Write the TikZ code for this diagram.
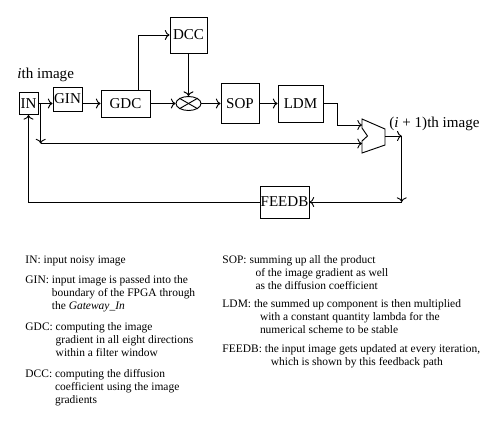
\documentclass[tikz,border=0pt]{standalone}
\usepackage{fontspec}
\setmainfont{Liberation Serif}
\usetikzlibrary{shapes.geometric,arrows.meta}

\begin{document}
\begin{tikzpicture}[x=0.75pt,y=0.75pt,yscale=-1,xscale=1,
  line width=0.7pt, >={To[length=3.5pt,width=7.5pt]},
  block/.style={draw, inner sep=0.5pt, font=\fontsize{11.3}{13}\selectfont},
  lbl/.style={inner sep=0pt, font=\fontsize{11.3}{13}\selectfont},
  legend/.style={anchor=base west, inner sep=0pt, align=left, font=\fontsize{8.6}{10.1}\selectfont}]
\useasboundingbox (0,0) rectangle (500,426);

%Flowchart: Process
\node[block, minimum width=14.25pt, minimum height=16.5pt] (IN) at (28.5,103.5) {IN};
\node[block, minimum width=21.75pt, minimum height=18pt] (GIN) at (67.5,99) {GIN};
\node[block, minimum width=36.75pt, minimum height=20.25pt] (GDC) at (125.5,103.5) {GDC};
\node[block, minimum width=27.75pt, minimum height=27pt] (DCC) at (188.5,35) {DCC};
\node[block, minimum width=28.5pt, minimum height=30pt] (SOP) at (240,103.5) {SOP};
\node[block, minimum width=33.75pt, minimum height=27.75pt] (LDM) at (300.5,103.5) {LDM};
\node[block, minimum width=36.75pt, minimum height=24pt] (FEEDB) at (284.5,202) {FEEDB};

%Flowchart: Multiplier
\node[draw, ellipse, minimum width=18.75pt, minimum height=10.5pt, inner sep=0pt] (mult) at (188.5,103.5) {};
\draw (mult.north west) -- (mult.south east);
\draw (mult.north east) -- (mult.south west);

%Adder
\draw (362,119) -- (385,129) -- (385,145) -- (362,153) -- (362,141) -- (367.5,136) -- (362,128) -- cycle;
\coordinate (addin1) at (362,125);
\coordinate (addin2) at (362,143.5);
\coordinate (addout) at (385,136);

%Corners
\coordinate (split) at (40.7,103.5);
\coordinate (bypass) at (40.7,143.5);
\coordinate (bend) at (337,125);
\coordinate (outc) at (401.7,136);
\coordinate (fbc) at (401.7,202);

%Straight Lines
\draw[->] (IN.east) -- (IN.east -| GIN.west);
\draw[->] (GIN.east |- GDC.west) -- (GDC.west);
\draw[->] ([xshift=9.4pt]GDC.north) |- (DCC.west);
\draw[->] (GDC.east) -- (mult.west);
\draw[->] (DCC.south) -- (mult.north);
\draw[->] (mult.east) -- (SOP.west);
\draw[->] (SOP.east) -- (LDM.west);
\draw[->] (LDM.east) -| (bend) -- (addin1);
\draw[->] (split) -- (bypass);
\draw[->] (bypass) -- (addin2);
\draw[->] (addout) -- (outc);
\draw[->] (outc) -- (fbc);
\draw[->] (fbc) -- (FEEDB.east);
\draw[->] (FEEDB.west) -| (IN.south);

% Text Node
\node[lbl, anchor=base west] (ith) at (17,78) {\textit{i}th image};
\node[lbl, anchor=base west] (inext) at (389,127) {(\textit{i} + 1)th image};

% Legend
\node[legend] (legIN) at (25,263) {IN: input noisy image};
\node[legend] (legGIN) at (25,283) {GIN: \begin{tabular}[t]{@{}l@{}}input image is passed into the\\boundary of the FPGA through\\the \textit{Gateway\_In}\end{tabular}};
\node[legend] (legGDC) at (25,330) {GDC: \begin{tabular}[t]{@{}l@{}}computing the image\\gradient in all eight directions\\within a filter window\end{tabular}};
\node[legend] (legDCC) at (25,377) {DCC: \begin{tabular}[t]{@{}l@{}}computing the diffusion\\coefficient using the image\\gradients\end{tabular}};
\node[legend] (legSOP) at (222,263) {SOP: \begin{tabular}[t]{@{}l@{}}summing up all the product\\\hspace*{4.5pt}of the image gradient as well\\\hspace*{4.5pt}as the diffusion coefficient\end{tabular}};
\node[legend] (legLDM) at (222,307) {LDM: \begin{tabular}[t]{@{}l@{}}the summed up component is then multiplied\\\hspace*{4.5pt}with a constant quantity lambda for the\\\hspace*{4.5pt}numerical scheme to be stable\end{tabular}};
\node[legend] (legFEEDB) at (222,352) {FEEDB: \begin{tabular}[t]{@{}l@{}}the input image gets updated at every iteration,\\\hspace*{4.5pt}which is shown by this feedback path\end{tabular}};

\end{tikzpicture}
\end{document}
